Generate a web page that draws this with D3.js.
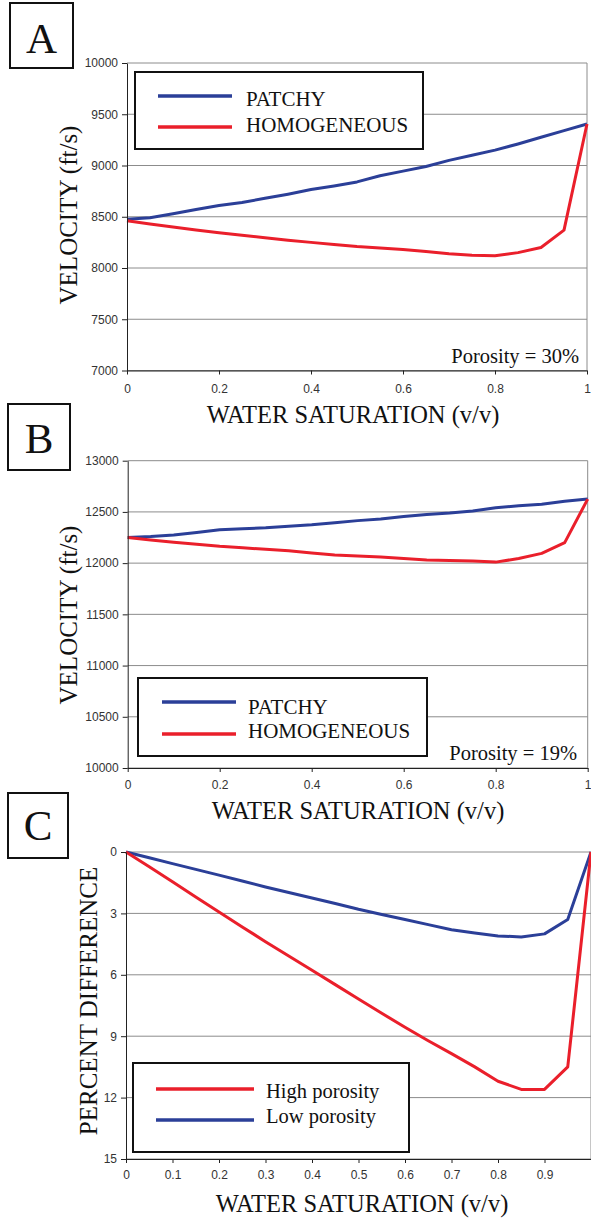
<!DOCTYPE html>
<html>
<head>
<meta charset="utf-8">
<script src="https://cdn.jsdelivr.net/npm/d3@7"></script>
<style>
  body { margin: 0; background: #fff; }
  svg { display: block; }
  .tick text { font-family: "Liberation Sans", Arial, sans-serif; font-size: 12px; fill: #333; }
  .domain, .tick line { stroke: #222; }
  .grid { stroke: #8c8c8c; stroke-width: 1; }
  .serif { font-family: "Liberation Serif", "Times New Roman", serif; fill: #111; }
  .frame { fill: #fff; stroke: #111; stroke-width: 2; }
</style>
</head>
<body>
<svg width="591" height="1218"></svg>
<script>
// water saturation sample points (0 .. 1 by 0.05)
const saturation = [0, 0.05, 0.1, 0.15, 0.2, 0.25, 0.3, 0.35, 0.4, 0.45, 0.5,
  0.55, 0.6, 0.65, 0.7, 0.75, 0.8, 0.85, 0.9, 0.95, 1];

// Panel A, porosity 30%
const patchyA = [8475, 8490, 8530, 8570, 8610, 8640, 8680, 8720, 8765, 8800, 8840,
  8900, 8945, 8990, 9050, 9100, 9150, 9210, 9275, 9340, 9405];
const homogA = [8460, 8430, 8400, 8370, 8345, 8320, 8295, 8270, 8250, 8230, 8210,
  8195, 8180, 8160, 8140, 8125, 8120, 8150, 8200, 8370, 9405];

// Panel B, porosity 19%
const patchyB = [12250, 12260, 12275, 12300, 12325, 12335, 12345, 12360, 12375, 12395, 12415,
  12430, 12455, 12475, 12490, 12510, 12540, 12560, 12575, 12605, 12625];
const homogB = [12250, 12225, 12205, 12185, 12165, 12150, 12135, 12120, 12100, 12080, 12070,
  12060, 12045, 12030, 12025, 12020, 12010, 12045, 12095, 12200, 12625];

// Panel C, percent difference
const highPorosity = [0, 0.72, 1.45, 2.2, 2.93, 3.66, 4.38, 5.08, 5.78, 6.48, 7.18,
  7.88, 8.56, 9.22, 9.85, 10.5, 11.2, 11.6, 11.6, 10.5, 0];
const lowPorosity = [0, 0.28, 0.57, 0.85, 1.13, 1.42, 1.71, 1.98, 2.25, 2.52, 2.8,
  3.05, 3.3, 3.55, 3.8, 3.96, 4.1, 4.15, 4.0, 3.3, 0];

// tick labels
const xTicksAB = [0, 0.2, 0.4, 0.6, 0.8, 1];
const xTicksC = [0, 0.1, 0.2, 0.3, 0.4, 0.5, 0.6, 0.7, 0.8, 0.9];
const yTicksA = [7000, 7500, 8000, 8500, 9000, 9500, 10000];
const yTicksB = [10000, 10500, 11000, 11500, 12000, 12500, 13000];
const yTicksC = [0, 3, 6, 9, 12, 15];

const BLUE = '#2b3f98';
const RED = '#ea1f2b';

const svg = d3.select('svg');

// Draws one panel: grid, axes, lines, legend and labels
const drawPanel = function (p) {
  const g = svg.append('g');

  const scaleX = d3.scaleLinear().domain([0, 1]).range(p.xRange);
  const scaleY = d3.scaleLinear().domain(p.yDomain).range(p.yRange);

  const yTop = Math.min(p.yRange[0], p.yRange[1]);
  const yBottom = Math.max(p.yRange[0], p.yRange[1]);

  // horizontal grid lines
  g.selectAll('line.grid-h')
    .data(p.yTicks)
    .enter()
    .append('line')
    .attr('class', 'grid')
    .attr('x1', p.xRange[0])
    .attr('x2', p.xRange[1])
    .attr('y1', d => scaleY(d))
    .attr('y2', d => scaleY(d));

  // right border
  g.append('line')
    .attr('class', 'grid')
    .attr('x1', p.xRange[1])
    .attr('x2', p.xRange[1])
    .attr('y1', yTop)
    .attr('y2', yBottom);

  // lines
  const line = d3.line()
    .x((d, i) => scaleX(saturation[i]))
    .y(d => scaleY(d));

  p.series.forEach(s => {
    g.append('path')
      .datum(s.values)
      .attr('fill', 'none')
      .attr('stroke', s.color)
      .attr('stroke-width', 3)
      .attr('stroke-linejoin', 'round')
      .attr('d', line);
  });

  // axes
  const axisX = d3.axisBottom(scaleX)
    .tickValues(p.xTicks)
    .tickSizeInner(4)
    .tickSizeOuter(0)
    .tickPadding(p.xPad)
    .tickFormat(d3.format('~g'));
  g.append('g')
    .attr('transform', `translate(0, ${yBottom})`)
    .call(axisX);

  const axisY = d3.axisLeft(scaleY)
    .tickValues(p.yTicks)
    .tickSizeInner(5)
    .tickSizeOuter(0)
    .tickPadding(4)
    .tickFormat(d3.format('d'));
  g.append('g')
    .attr('transform', `translate(${p.xRange[0]}, 0)`)
    .call(axisY);

  // legend
  const lg = p.legend;
  g.append('rect')
    .attr('class', 'frame')
    .attr('x', lg.x)
    .attr('y', lg.y)
    .attr('width', lg.w)
    .attr('height', lg.h);
  lg.items.forEach(it => {
    g.append('line')
      .attr('x1', lg.lineX[0])
      .attr('x2', lg.lineX[1])
      .attr('y1', it.lineY)
      .attr('y2', it.lineY)
      .attr('stroke', it.color)
      .attr('stroke-width', 3.5);
    g.append('text')
      .attr('class', 'serif')
      .attr('x', lg.textX)
      .attr('y', it.textY)
      .style('font-size', lg.fontSize + 'px')
      .text(it.label);
  });

  // porosity note
  if (p.note) {
    g.append('text')
      .attr('class', 'serif')
      .attr('x', p.note.x)
      .attr('y', p.note.y)
      .attr('text-anchor', 'end')
      .style('font-size', '20.5px')
      .text(p.note.text);
  }

  // axis titles
  g.append('text')
    .attr('class', 'serif')
    .attr('text-anchor', 'middle')
    .attr('transform', `translate(${p.xTitle.x}, ${p.xTitle.y})`)
    .style('font-size', '24.5px')
    .text('WATER SATURATION (v/v)');

  g.append('text')
    .attr('class', 'serif')
    .attr('text-anchor', 'middle')
    .attr('transform', `translate(${p.yTitle.x}, ${p.yTitle.y}) rotate(-90)`)
    .style('font-size', '25px')
    .text(p.yTitle.text);

  // panel letter box
  const b = p.badge;
  g.append('rect')
    .attr('class', 'frame')
    .attr('x', b.x)
    .attr('y', b.y)
    .attr('width', b.w)
    .attr('height', b.h);
  g.append('text')
    .attr('class', 'serif')
    .attr('text-anchor', 'middle')
    .attr('x', b.x + b.w / 2)
    .attr('y', b.base)
    .style('font-size', '43px')
    .text(b.letter);
};

drawPanel({
  xRange: [127, 587],
  yDomain: [7000, 10000],
  yRange: [370.5, 63],
  xTicks: xTicksAB,
  yTicks: yTicksA,
  xPad: 10,
  series: [
    { values: patchyA, color: BLUE },
    { values: homogA, color: RED }
  ],
  legend: {
    x: 135, y: 72, w: 288, h: 77, lineX: [158, 232], textX: 246, fontSize: 21,
    items: [
      { label: 'PATCHY', color: BLUE, lineY: 96, textY: 106 },
      { label: 'HOMOGENEOUS', color: RED, lineY: 127, textY: 132 }
    ]
  },
  note: { text: 'Porosity = 30%', x: 579, y: 363 },
  xTitle: { x: 353, y: 423 },
  yTitle: { x: 77, y: 215, text: 'VELOCITY (ft/s)' },
  badge: { x: 10, y: 3, w: 63, h: 65, base: 53, letter: 'A' }
});

drawPanel({
  xRange: [127.7, 587.7],
  yDomain: [10000, 13000],
  yRange: [768, 460.7],
  xTicks: xTicksAB,
  yTicks: yTicksB,
  xPad: 8.5,
  series: [
    { values: patchyB, color: BLUE },
    { values: homogB, color: RED }
  ],
  legend: {
    x: 138, y: 678, w: 289, h: 78, lineX: [162, 236], textX: 248, fontSize: 21,
    items: [
      { label: 'PATCHY', color: BLUE, lineY: 702, textY: 714 },
      { label: 'HOMOGENEOUS', color: RED, lineY: 734, textY: 738 }
    ]
  },
  note: { text: 'Porosity = 19%', x: 577, y: 760 },
  xTitle: { x: 358, y: 819 },
  yTitle: { x: 77, y: 615, text: 'VELOCITY (ft/s)' },
  badge: { x: 8, y: 404, w: 62, h: 66, base: 453, letter: 'B' }
});

drawPanel({
  xRange: [126, 591],
  yDomain: [0, 15],
  yRange: [852, 1159],
  xTicks: xTicksC,
  yTicks: yTicksC,
  xPad: 7.5,
  series: [
    { values: lowPorosity, color: BLUE },
    { values: highPorosity, color: RED }
  ],
  legend: {
    x: 133, y: 1063, w: 276, h: 89, lineX: [156, 254], textX: 266, fontSize: 20.5,
    items: [
      { label: 'High porosity', color: RED, lineY: 1089, textY: 1098 },
      { label: 'Low porosity', color: BLUE, lineY: 1120, textY: 1123 }
    ]
  },
  note: null,
  xTitle: { x: 362, y: 1212 },
  yTitle: { x: 97, y: 1001, text: 'PERCENT DIFFERENCE' },
  badge: { x: 8, y: 793, w: 60, h: 65, base: 840, letter: 'C' }
});
</script>
</body>
</html>
